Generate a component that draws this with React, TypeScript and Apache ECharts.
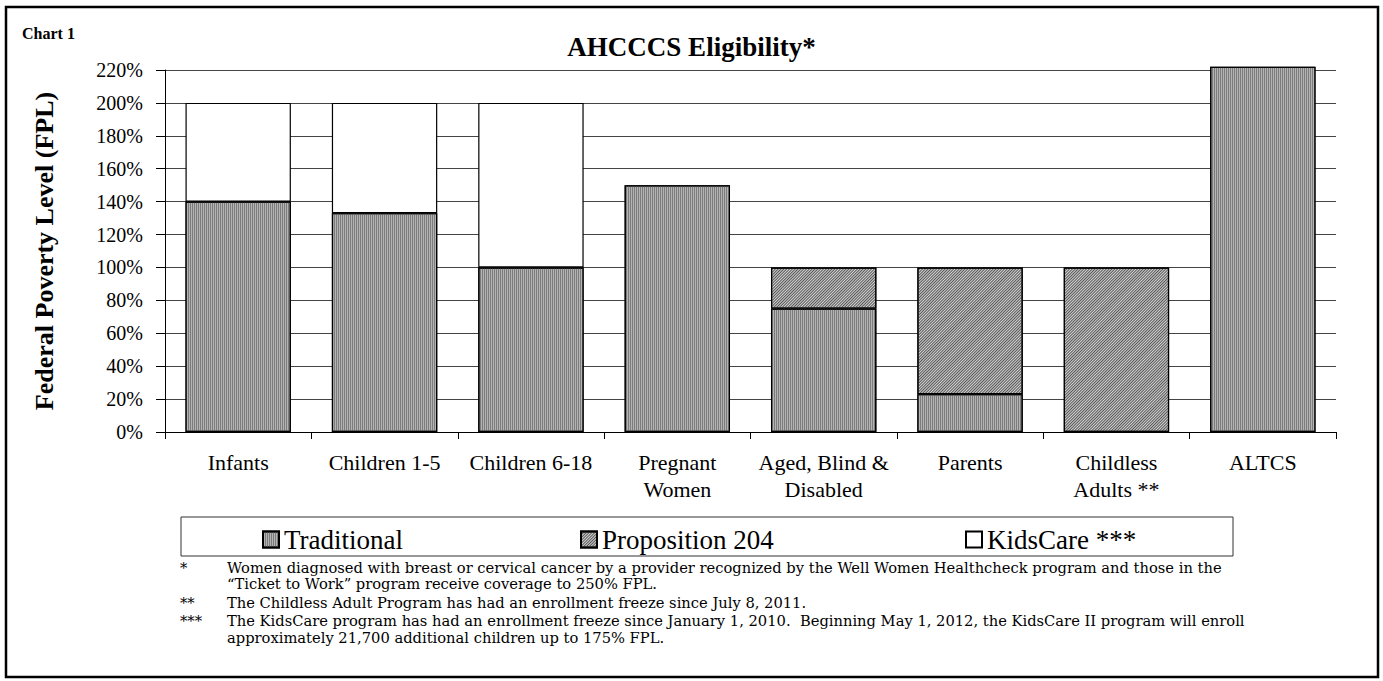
import React, { useEffect, useRef } from "react";
import * as echarts from "echarts";

const categories = [
  "Infants",
  "Children 1-5",
  "Children 6-18",
  "Pregnant\nWomen",
  "Aged, Blind &\nDisabled",
  "Parents",
  "Childless\nAdults **",
  "ALTCS",
];
const traditional = [140, 133, 100, 150, 75, 23, null, 222];
const proposition204 = [null, null, null, null, 25, 77, 100, null];
const kidsCare = [60, 67, 100, null, null, null, null, null];

const yTicks = [0, 20, 40, 60, 80, 100, 120, 140, 160, 180, 200, 220];

const footnoteMarks = ["*", "", "**", "***", ""];
const footnoteLines = [
  "Women diagnosed with breast or cervical cancer by a provider recognized by the Well Women Healthcheck program and those in the",
  "\u201CTicket to Work\u201D program receive coverage to 250% FPL.",
  "The Childless Adult Program has had an enrollment freeze since July 8, 2011.",
  "The KidsCare program has had an enrollment freeze since January 1, 2010.  Beginning May 1, 2012, the KidsCare II program will enroll",
  "approximately 21,700 additional children up to 175% FPL.",
];
const footnoteY = [567, 583, 602, 620, 637];

const SERIF = "Liberation Serif";
const NOTE_FONT = "DejaVu Serif";

export default function App() {
  const ref = useRef<HTMLDivElement>(null);
  useEffect(() => {
    if (!ref.current) return;
    const chart = echarts.init(ref.current, undefined, { renderer: "svg" });
    const tradStyle = {
      color: "#b4b4b4",
      borderColor: "#000",
      borderWidth: 1.2,
      decal: {
        symbol: "rect",
        symbolSize: 1,
        color: "#7c7c7c",
        dashArrayX: [1, 1],
        dashArrayY: [4, 0],
        rotation: 0,
      },
    };
    const propStyle = {
      color: "#d4d4d4",
      borderColor: "#000",
      borderWidth: 1.2,
      decal: {
        symbol: "rect",
        symbolSize: 1,
        color: "#555555",
        dashArrayX: [4, 0],
        dashArrayY: [1, 1],
        rotation: -Math.PI / 4,
      },
    };
    const kidsStyle = { color: "#ffffff", borderColor: "#000", borderWidth: 1.2 };

    const graphics: any[] = [
      {
        type: "rect",
        shape: { x: 6, y: 7, width: 1372, height: 670 },
        style: { fill: "none", stroke: "#000", lineWidth: 2.5 },
        silent: true,
      },
      {
        type: "rect",
        shape: { x: 181, y: 517, width: 1052, height: 39 },
        style: { fill: "none", stroke: "#333", lineWidth: 1 },
        silent: true,
      },
      {
        type: "text",
        style: {
          text: "Chart 1",
          x: 22,
          y: 33,
          font: `bold 16px "${SERIF}"`,
          fill: "#000",
          textVerticalAlign: "middle",
        },
      },
    ];
    footnoteLines.forEach((line, i) => {
      if (footnoteMarks[i]) {
        graphics.push({
          type: "text",
          style: {
            text: footnoteMarks[i],
            x: 180,
            y: footnoteY[i],
            font: `14.7px "${NOTE_FONT}"`,
            fill: "#000",
            textVerticalAlign: "middle",
          },
        });
      }
      graphics.push({
        type: "text",
        style: {
          text: line,
          x: 227,
          y: footnoteY[i],
          font: `14.7px "${NOTE_FONT}"`,
          fill: "#000",
          textVerticalAlign: "middle",
        },
      });
    });

    const legendBase = {
      top: 521,
      icon: "rect",
      itemWidth: 16,
      itemHeight: 16,
      itemGap: 10,
      textStyle: { fontFamily: SERIF, fontSize: 27, color: "#000" },
      selectedMode: false,
    };

    chart.setOption({
      animation: false,
      backgroundColor: "#fff",
      title: {
        text: "AHCCCS Eligibility*",
        left: "center",
        top: 28,
        textStyle: { fontFamily: SERIF, fontWeight: "bold", fontSize: 27, color: "#000" },
      },
      legend: [
        { ...legendBase, left: 257, data: ["Traditional"] },
        { ...legendBase, left: 575, data: ["Proposition 204"] },
        { ...legendBase, left: 960, data: ["KidsCare ***"] },
      ],
      grid: { left: 165, right: 47, top: 70, bottom: 249 },
      xAxis: {
        type: "category",
        data: categories,
        axisLine: { lineStyle: { color: "#000", width: 1 } },
        axisTick: { show: true, length: 7, lineStyle: { color: "#000" } },
        axisLabel: {
          fontFamily: SERIF,
          fontSize: 22,
          color: "#000",
          lineHeight: 27,
          margin: 17,
          interval: 0,
        },
      },
      yAxis: {
        type: "value",
        min: yTicks[0],
        max: yTicks[yTicks.length - 1],
        interval: 20,
        name: "Federal Poverty Level (FPL)",
        nameLocation: "middle",
        nameRotate: 90,
        nameGap: 108,
        nameTextStyle: { fontFamily: SERIF, fontWeight: "bold", fontSize: 26, color: "#000" },
        axisLine: { show: true, lineStyle: { color: "#000", width: 1 } },
        axisTick: { show: true, length: 9, lineStyle: { color: "#000" } },
        axisLabel: {
          formatter: "{value}%",
          fontFamily: SERIF,
          fontSize: 20,
          color: "#000",
          margin: 22,
        },
        splitLine: { show: true, lineStyle: { color: "#444", width: 1 } },
      },
      series: [
        {
          name: "Traditional",
          type: "bar",
          stack: "total",
          barWidth: "72%",
          clip: false,
          data: traditional,
          itemStyle: tradStyle,
        },
        {
          name: "Proposition 204",
          type: "bar",
          stack: "total",
          barWidth: "72%",
          clip: false,
          data: proposition204,
          itemStyle: propStyle,
        },
        {
          name: "KidsCare ***",
          type: "bar",
          stack: "total",
          barWidth: "72%",
          clip: false,
          data: kidsCare,
          itemStyle: kidsStyle,
        },
      ],
      graphic: graphics,
    });
    return () => chart.dispose();
  }, []);
  return (
    <div
      ref={ref}
      style={{ position: "absolute", left: 0, top: 0, width: 1383, height: 681 }}
    />
  );
}
